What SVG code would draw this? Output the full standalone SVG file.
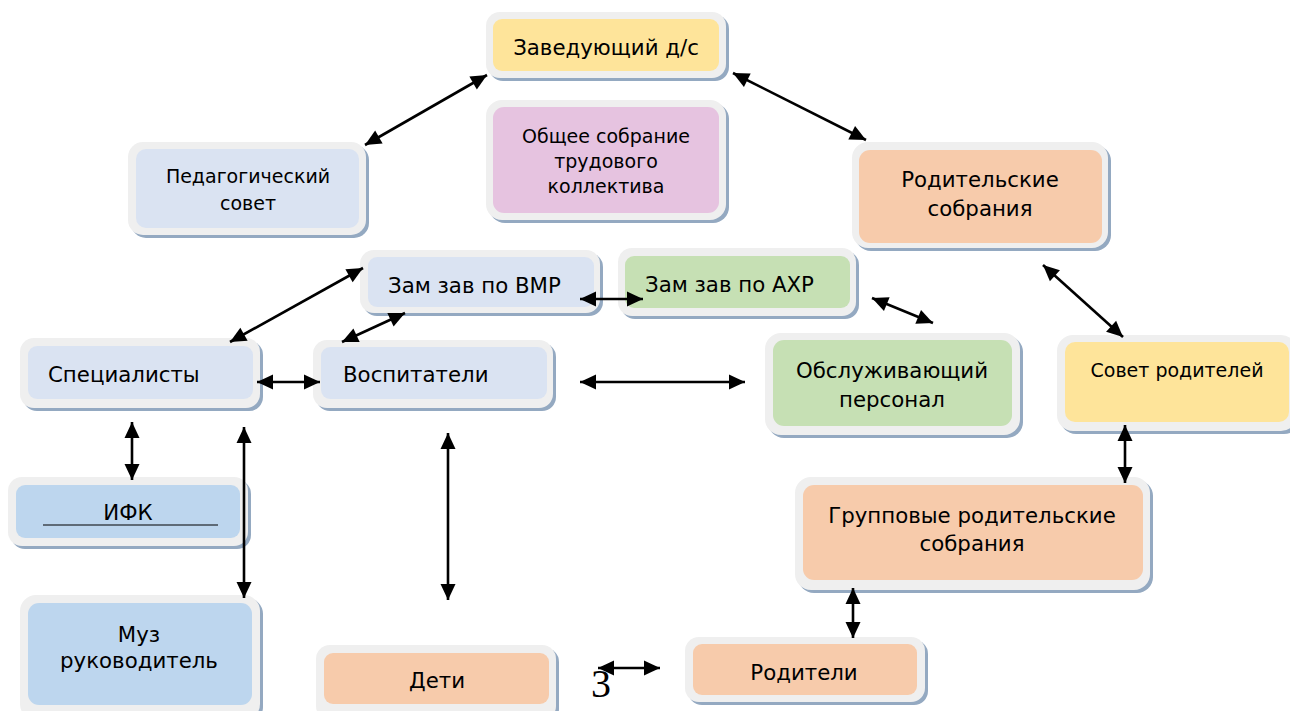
<svg xmlns="http://www.w3.org/2000/svg" width="1290" height="711" viewBox="0 0 1290 711">
<style>
.sh{fill:#94a9c1}
.fr{fill:#efefef}
.blue{fill:#dae3f2}
.blue2{fill:#bdd6ee}
.yel{fill:#fee49a}
.pink{fill:#e6c3e0}
.peach{fill:#f7cbab}
.green{fill:#c6e0b4}
text{font-family:"DejaVu Sans",Verdana,sans-serif;font-size:21.3px;fill:#000}
.s{font-size:19px}
.c{text-anchor:middle}
.ar{stroke:#000;stroke-width:2.6;fill:none;marker-start:url(#ah);marker-end:url(#ah)}
</style>
<defs>
<marker id="ah" markerUnits="userSpaceOnUse" markerWidth="18" markerHeight="18" viewBox="0 0 18 18" refX="17" refY="9" orient="auto-start-reverse">
<path d="M1,1.5 L17,9 L1,16.5 Z" fill="#000"/>
</marker>
</defs>
<rect width="1290" height="711" fill="#fff"/>

<g id="zav">
<rect class="sh" x="489" y="15" width="240" height="66" rx="14"/>
<rect class="fr" x="486" y="12" width="240" height="66" rx="14"/>
<rect class="yel" x="493" y="19" width="226" height="52" rx="9"/>
<text class="c" x="606" y="55">Заведующий д/с</text>
</g>

<g id="obshchee">
<rect class="sh" x="489" y="103" width="240" height="120" rx="16"/>
<rect class="fr" x="486" y="100" width="240" height="120" rx="16"/>
<rect class="pink" x="493" y="107" width="226" height="106" rx="11"/>
<text class="c s" x="606" y="143">Общее собрание</text>
<text class="c s" x="606" y="168">трудового</text>
<text class="c s" x="606" y="193">коллектива</text>
</g>

<g id="pedsovet">
<rect class="sh" x="131" y="145" width="238" height="93" rx="15"/>
<rect class="fr" x="128" y="142" width="238" height="93" rx="15"/>
<rect class="blue" x="136" y="149" width="223" height="79" rx="10"/>
<text class="c s" x="248" y="183">Педагогический</text>
<text class="c s" x="248" y="210">совет</text>
</g>

<g id="rodsobr">
<rect class="sh" x="855" y="145" width="256" height="106" rx="16"/>
<rect class="fr" x="852" y="142" width="256" height="106" rx="16"/>
<rect class="peach" x="859" y="150" width="243" height="93" rx="11"/>
<text class="c" x="980" y="187">Родительские</text>
<text class="c" x="980" y="216">собрания</text>
</g>

<g id="vmr">
<rect class="sh" x="363" y="253" width="240" height="63" rx="14"/>
<rect class="fr" x="360" y="250" width="240" height="63" rx="14"/>
<rect class="blue" x="368" y="257" width="226" height="50" rx="9"/>
<text x="388" y="293">Зам зав по ВМР</text>
</g>

<g id="ahr">
<rect class="sh" x="621" y="251" width="238" height="68" rx="14"/>
<rect class="fr" x="618" y="248" width="238" height="68" rx="14"/>
<rect class="green" x="625" y="256" width="225" height="52" rx="9"/>
<text x="645" y="292">Зам зав по АХР</text>
</g>

<g id="spec">
<rect class="sh" x="23" y="341" width="240" height="70" rx="14"/>
<rect class="fr" x="20" y="338" width="240" height="70" rx="14"/>
<rect class="blue" x="28" y="346" width="225" height="53" rx="9"/>
<text x="48" y="382">Специалисты</text>
</g>

<g id="vosp">
<rect class="sh" x="316" y="343" width="240" height="68" rx="14"/>
<rect class="fr" x="313" y="340" width="240" height="68" rx="14"/>
<rect class="blue" x="321" y="347" width="226" height="52" rx="9"/>
<text x="343" y="382">Воспитатели</text>
</g>

<g id="obsl">
<rect class="sh" x="768" y="336" width="255" height="102" rx="16"/>
<rect class="fr" x="765" y="333" width="255" height="102" rx="16"/>
<rect class="green" x="773" y="340" width="239" height="86" rx="11"/>
<text class="c" x="892" y="378">Обслуживающий</text>
<text class="c" x="892" y="407">персонал</text>
</g>

<g id="sovet">
<rect class="sh" x="1060" y="338" width="240" height="96" rx="16"/>
<rect class="fr" x="1057" y="335" width="240" height="96" rx="16"/>
<rect class="yel" x="1065" y="342" width="224" height="80" rx="10"/>
<text class="c s" x="1177" y="377">Совет родителей</text>
</g>

<g id="ifk">
<rect class="sh" x="11" y="480" width="240" height="69" rx="14"/>
<rect class="fr" x="8" y="477" width="240" height="69" rx="14"/>
<rect class="blue2" x="16" y="485" width="224" height="53" rx="9"/>
<text class="c" x="128" y="520">ИФК</text>
<line x1="43" y1="525" x2="218" y2="525" stroke="#000" stroke-width="1"/>
</g>

<g id="grupp">
<rect class="sh" x="798" y="480" width="355" height="113" rx="16"/>
<rect class="fr" x="795" y="477" width="355" height="113" rx="16"/>
<rect class="peach" x="803" y="485" width="340" height="95" rx="11"/>
<text class="c" x="972" y="523">Групповые родительские</text>
<text class="c" x="972" y="551">собрания</text>
</g>

<g id="muz">
<rect class="sh" x="23" y="598" width="240" height="125" rx="16"/>
<rect class="fr" x="20" y="595" width="240" height="125" rx="16"/>
<rect class="blue2" x="28" y="603" width="224" height="102" rx="11"/>
<text class="c" x="139" y="642">Муз</text>
<text class="c" x="139" y="668">руководитель</text>
</g>

<g id="deti">
<rect class="sh" x="319" y="648" width="240" height="75" rx="14"/>
<rect class="fr" x="316" y="645" width="240" height="75" rx="14"/>
<rect class="peach" x="324" y="653" width="225" height="51" rx="9"/>
<text class="c" x="437" y="688">Дети</text>
</g>

<g id="roditeli">
<rect class="sh" x="688" y="640" width="240" height="65" rx="14"/>
<rect class="fr" x="685" y="637" width="240" height="65" rx="14"/>
<rect class="peach" x="693" y="644" width="224" height="51" rx="9"/>
<text class="c" x="804" y="680">Родители</text>
</g>

<g id="connectors">
<line class="ar" x1="365" y1="145" x2="487" y2="75"/>
<line class="ar" x1="733" y1="73" x2="866" y2="140"/>
<line class="ar" x1="1043" y1="265" x2="1123" y2="337"/>
<line class="ar" x1="1125" y1="425" x2="1125" y2="483"/>
<line class="ar" x1="853" y1="588" x2="853" y2="638"/>
<line class="ar" x1="598" y1="668" x2="660" y2="668"/>
<line class="ar" x1="448" y1="433" x2="448" y2="600"/>
<line class="ar" x1="230" y1="342" x2="363" y2="268"/>
<line class="ar" x1="342" y1="342" x2="405" y2="313"/>
<line class="ar" x1="580" y1="299" x2="643" y2="299"/>
<line class="ar" x1="872" y1="298" x2="933" y2="323"/>
<line class="ar" x1="580" y1="382" x2="745" y2="382"/>
<line class="ar" x1="257" y1="382" x2="320" y2="382"/>
<line class="ar" x1="132" y1="422" x2="132" y2="480"/>
<line class="ar" x1="244" y1="427" x2="244" y2="598"/>
</g>
<text x="591" y="697" style="font-family:'Liberation Serif','Times New Roman',serif;font-size:40px">3</text>
</svg>
